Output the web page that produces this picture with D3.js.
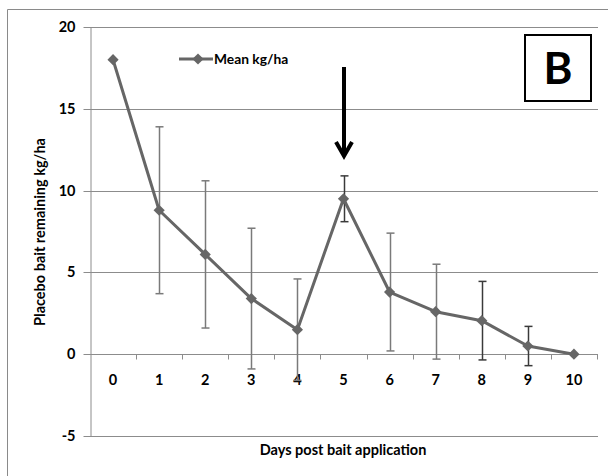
<!DOCTYPE html>
<html>
<head>
<meta charset="utf-8">
<script src="https://cdn.jsdelivr.net/npm/d3@7/dist/d3.min.js"></script>
<style>
html,body{margin:0;padding:0;background:#fff;}
svg text{font-family:Lato,"Open Sans",sans-serif;}
</style>
</head>
<body>
<script>
const days = ["0","1","2","3","4","5","6","7","8","9","10"];
const meanKgHa = [18, 8.8, 6.1, 3.4, 1.5, 9.5, 3.8, 2.6, 2.05, 0.5, 0];
const errKgHa = [0, 5.1, 4.5, 4.3, 3.1, 1.4, 3.6, 2.9, 2.4, 1.2, 0];
const darkErr = [false,false,false,false,false,true,false,false,true,true,false];
const yTicks = [-5, 0, 5, 10, 15, 20];
const seriesName = "Mean kg/ha";
const panelLabel = "B";
const xTitle = "Days post bait application";
const yTitle = "Placebo bait remaining kg/ha";
const arrowDay = "5";

(function () {
const W = 608, H = 476;
const svg = d3.select("body").append("svg").attr("width", W).attr("height", H);

// outer chart border
svg.append("path").attr("d", `M7.5,${H+2} V9.5 H${W+2}`).attr("fill","none").attr("stroke","#8a8a8a").attr("stroke-width",1);

const pLeft = 90, pRight = 597, pTop = 27, pBottom = 436;
const x = d3.scaleBand().domain(days).range([pLeft, pRight]).padding(0);
const y = d3.scaleLinear().domain([-5, 20]).range([pBottom, pTop]);
const cx = d => x(d) + x.bandwidth() / 2;

// gridlines
svg.append("g").selectAll("line").data(yTicks.filter(t => t !== 0)).join("line")
  .attr("x1", pLeft).attr("x2", pRight + 1)
  .attr("y1", d => Math.round(y(d)) + 0.5).attr("y2", d => Math.round(y(d)) + 0.5)
  .attr("stroke", "#8c8c8c").attr("stroke-width", 1);

// y axis
const yAxis = svg.append("g").attr("transform", `translate(${pLeft + 0.5},0)`)
  .call(d3.axisLeft(y).tickValues(yTicks).tickFormat(d => String(d)).tickSize(7).tickPadding(8).tickSizeOuter(0));
yAxis.select(".domain").attr("stroke", "#8c8c8c");
yAxis.selectAll(".tick line").attr("stroke", "#8c8c8c");
yAxis.selectAll(".tick").attr("transform", d => `translate(0,${Math.round(y(d)) + 0.5})`);
yAxis.selectAll("text").attr("font-size", 14.5).attr("font-weight", "bold").attr("fill", "#000");

// x axis at 0
const y0 = Math.round(y(0)) + 0.5;
const xAxis = svg.append("g").attr("transform", `translate(0,${y0})`)
  .call(d3.axisBottom(x).tickSize(0).tickPadding(20));
xAxis.select(".domain").attr("stroke", "#8c8c8c").attr("d", `M${pLeft},0H${pRight + 1}`);
xAxis.selectAll("text").attr("font-size", 14.5).attr("font-weight", "bold").attr("fill", "#000");
// boundary tick marks
const bounds = days.map(d => x(d)).concat([x.range()[1]]);
svg.append("g").selectAll("line").data(bounds.slice(1)).join("line")
  .attr("x1", d => Math.round(d) + 0.5).attr("x2", d => Math.round(d) + 0.5)
  .attr("y1", y0).attr("y2", y0 + 5)
  .attr("stroke", "#8c8c8c");

// error bars
const eb = svg.append("g");
days.forEach((d, i) => {
  if (!errKgHa[i]) return;
  const col = darkErr[i] ? "#3a3a3a" : "#7a7a7a";
  const xx = Math.round(cx(d)) + 0.5;
  const yHi = y(meanKgHa[i] + errKgHa[i]), yLo = y(meanKgHa[i] - errKgHa[i]);
  eb.append("line").attr("x1", xx).attr("x2", xx).attr("y1", yHi).attr("y2", yLo).attr("stroke", col).attr("stroke-width", 1.5);
  [yHi, yLo].forEach(yy => eb.append("line").attr("x1", xx - 4).attr("x2", xx + 4).attr("y1", yy).attr("y2", yy).attr("stroke", col).attr("stroke-width", 1.5));
});

// line
const lineCol = "#666666";
svg.append("path").datum(days.map((d, i) => [cx(d), y(meanKgHa[i])]))
  .attr("d", d3.line()).attr("fill", "none").attr("stroke", lineCol).attr("stroke-width", 3).attr("stroke-linejoin", "round");
const diamond = d3.symbol().type(d3.symbolDiamond2).size(80);
svg.append("g").selectAll("path").data(days).join("path")
  .attr("transform", (d, i) => `translate(${cx(d)},${y(meanKgHa[i])})`)
  .attr("d", diamond).attr("fill", lineCol);

// legend
svg.append("line").attr("x1", 179).attr("x2", 213).attr("y1", 59).attr("y2", 59).attr("stroke", lineCol).attr("stroke-width", 3);
svg.append("path").attr("transform", "translate(198,59)").attr("d", diamond).attr("fill", lineCol);
svg.append("text").attr("x", 214).attr("y", 64).attr("font-size", 13.8).attr("font-weight", "bold").attr("fill", "#000").text(seriesName);

// panel label box
svg.append("rect").attr("x", 525).attr("y", 35).attr("width", 66).attr("height", 66).attr("fill", "#fff").attr("stroke", "#000").attr("stroke-width", 2);
svg.append("text").attr("x", 558).attr("y", 84).attr("text-anchor", "middle").attr("font-size", 44).attr("font-weight", "bold").attr("fill", "#000").text(panelLabel);

// arrow
const ax = Math.round(cx(arrowDay));
svg.append("line").attr("x1", ax).attr("x2", ax).attr("y1", 67).attr("y2", 155).attr("stroke", "#000").attr("stroke-width", 4);
svg.append("path").attr("d", `M${ax - 8},${142} L${ax},${156} L${ax + 8},${142}`).attr("fill", "none").attr("stroke", "#000").attr("stroke-width", 4).attr("stroke-linejoin", "miter");

// axis titles
svg.append("text").attr("x", 343).attr("y", 455).attr("text-anchor", "middle").attr("font-size", 14.5).attr("font-weight", "bold").attr("fill", "#000").text(xTitle);
svg.append("text").attr("transform", "translate(45,232) rotate(-90)").attr("text-anchor", "middle").attr("font-size", 14.5).attr("font-weight", "bold").attr("fill", "#000").text(yTitle);
})();
</script>
</body>
</html>
